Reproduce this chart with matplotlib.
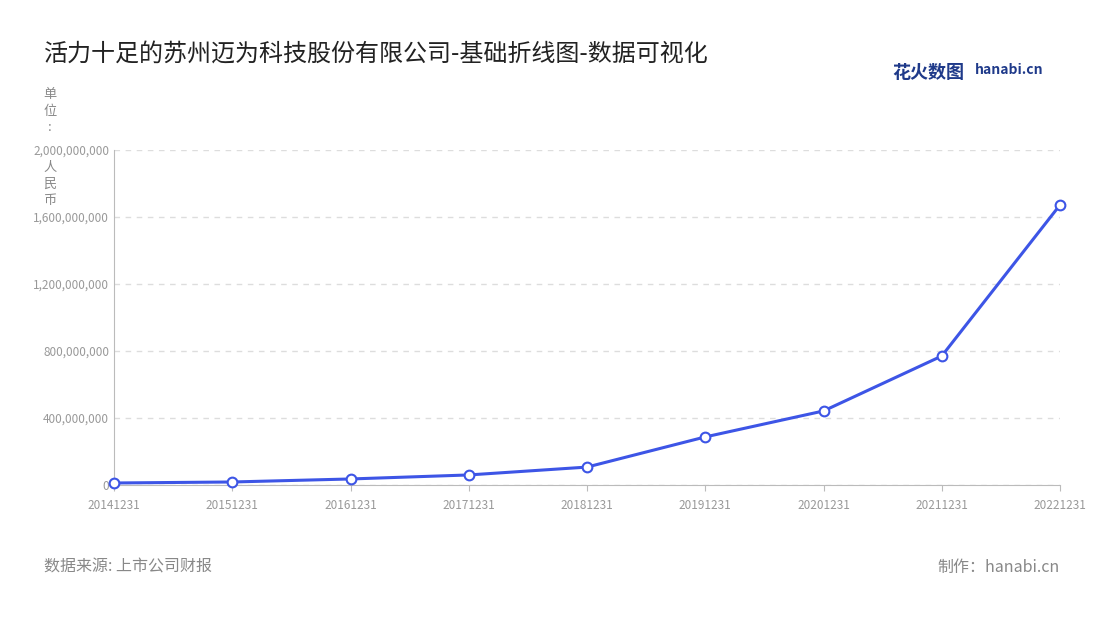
import matplotlib
matplotlib.use("Agg")
import matplotlib.pyplot as plt
from matplotlib.ticker import FuncFormatter

plt.rcParams["font.family"] = ["Noto Sans CJK SC", "DejaVu Sans"]

dates = ["20141231", "20151231", "20161231", "20171231", "20181231",
         "20191231", "20201231", "20211231", "20221231"]
values = [12e6, 18e6, 36e6, 60e6, 107e6, 287e6, 442e6, 770e6, 1672e6]
yticks = [0, 400e6, 800e6, 1200e6, 1600e6, 2000e6]

fig = plt.figure(figsize=(11, 6.2), dpi=100)
ax = fig.add_axes([114 / 1100, 1 - 485 / 620, 946 / 1100, 335 / 620])

x = list(range(len(dates)))
ax.plot(x, values, color="#3d55e6", lw=2.2, marker="o", ms=7,
        mfc="white", mec="#3d55e6", mew=1.5, zorder=3, clip_on=False)

ax.set_xlim(0, len(dates) - 1)
ax.set_ylim(0, 2000e6)
ax.set_xticks(x)
ax.set_xticklabels(dates)
ax.set_yticks(yticks)
ax.yaxis.set_major_formatter(FuncFormatter(lambda v, p: f"{int(v):,}"))
ax.tick_params(axis="both", labelsize=8.5, colors="#999999", length=0)
ax.tick_params(axis="x", length=4, color="#bbbbbb", pad=6)
ax.grid(axis="y", ls=(0, (4, 4)), color="#dddddd", lw=1)
for s in ["top", "right"]:
    ax.spines[s].set_visible(False)
ax.spines["left"].set_color("#bbbbbb")
ax.spines["bottom"].set_color("#bbbbbb")

fig.text(44 / 1100, 1 - 55 / 620, "活力十足的苏州迈为科技股份有限公司-基础折线图-数据可视化",
         fontsize=17.3, color="#222222", va="center")
fig.text(50 / 1100, 1 - 88 / 620, "单\n位\n:", fontsize=9.5,
         color="#888888", va="top", ha="center", linespacing=1.35)
fig.text(50 / 1100, 1 - 161 / 620, "人\n民\n币", fontsize=9.5,
         color="#888888", va="top", ha="center", linespacing=1.35)
fig.text(44 / 1100, 1 - 567 / 620, "数据来源: 上市公司财报", fontsize=11.5,
         color="#888888", va="center")
fig.text(1060 / 1100, 1 - 567 / 620, "制作：hanabi.cn", fontsize=11.5,
         color="#888888", va="center", ha="right")
fig.text(892 / 1100, 1 - 73 / 620, "花火数图", fontsize=13, color="#1f3a8a",
         va="center", fontweight="bold")
fig.text(975 / 1100, 1 - 70 / 620, "hanabi.cn", fontsize=10, color="#1f3a8a",
         va="center", fontweight="bold")

fig.savefig("out.png", dpi=100)
